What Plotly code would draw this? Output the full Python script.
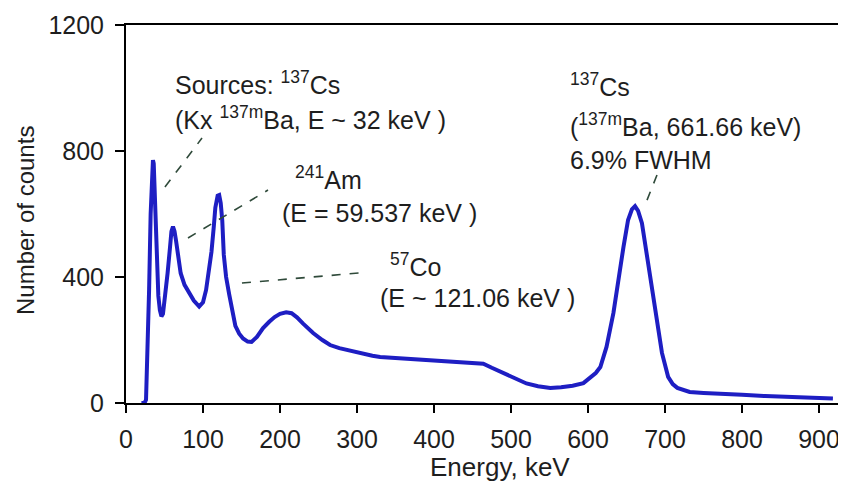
import plotly.graph_objects as go

# Spectrum (energy in keV, counts)
energy_kev = [20, 24, 26, 28, 30, 32, 34, 35, 36, 37, 38, 40, 42, 44, 46, 48, 51, 54, 57, 59,
              61, 63, 65, 68, 71, 76, 82, 88, 95, 100, 104, 108, 111, 114, 116, 119, 121, 123,
              125, 127, 130, 134, 138, 142, 147, 152, 158, 163, 170, 178, 186, 193, 200, 208,
              215, 222, 230, 243, 255, 265, 277, 287, 298, 308, 320, 330, 342, 352, 367, 382,
              400, 420, 440, 455, 464, 475, 490, 500, 508, 520, 535, 551, 565, 580, 594, 603,
              610, 616, 624, 633, 639, 646, 652, 657, 661, 665, 670, 677, 683, 689, 696, 704,
              710, 716, 725, 732, 750, 775, 800, 830, 860, 890, 918]
counts = [0, 0, 10, 146, 359, 600, 730, 771, 760, 700, 600, 450, 340, 295, 275, 283, 340, 412,
          490, 545, 560, 545, 515, 460, 412, 375, 349, 325, 306, 320, 359, 420, 480, 560, 620,
          658, 660, 635, 580, 470, 400, 345, 290, 245, 220, 205, 195, 194, 210, 238, 258, 273,
          283, 288, 285, 272, 252, 222, 200, 184, 174, 168, 162, 157, 150, 146, 144, 143, 140,
          137, 134, 131, 130, 127, 125, 112, 95, 85, 75, 62, 53, 48, 50, 55, 63, 80, 95, 114,
          178, 286, 390, 495, 581, 615, 625, 610, 571, 464, 359, 263, 159, 83, 60, 48, 40, 35,
          32, 30, 26, 22, 19, 16, 14]

x_ticks = [0, 100, 200, 300, 400, 500, 600, 700, 800, 900]
y_ticks = [0, 400, 800, 1200]
x_title = "Energy, keV"
y_title = "Number of counts"

label_texts = ["Sources: <sup>137</sup>Cs",
               "(Kx <sup>137m</sup>Ba, E ~ 32 keV )",
               "<sup>241</sup>Am",
               "(E = 59.537 keV )",
               "<sup>57</sup>Co",
               "(E ~ 121.06 keV )",
               "<sup>137</sup>Cs",
               "(<sup>137m</sup>Ba, 661.66 keV)",
               "6.9% FWHM"]
label_x = [61, 61, 217, 200, 340, 327, 574, 574, 574]
label_y = [1016, 906, 715, 603, 437, 333, 1010, 883, 771]

# leader lines (x0, y0, x1, y1) in data units
leaders = [(50.6, 686, 98.7, 841),
           (80.5, 524, 184.4, 676),
           (150.6, 381, 303.9, 413),
           (676.6, 644, 689.6, 724)]

FONT = "Liberation Sans, Arial, sans-serif"
TXT = "#1e1e1e"

fig = go.Figure()
fig.add_trace(go.Scatter(x=energy_kev, y=counts, mode="lines",
                         line=dict(color="rgb(30,30,195)", width=4),
                         hoverinfo="skip", showlegend=False))

for t, xx, yy in zip(label_texts, label_x, label_y):
    fig.add_annotation(x=xx, y=yy, xref="x", yref="y", text=t, showarrow=False,
                       xanchor="left", yanchor="middle",
                       font=dict(family=FONT, size=25, color=TXT))

for x0, y0, x1, y1 in leaders:
    fig.add_shape(type="line", xref="x", yref="y", x0=x0, y0=y0, x1=x1, y1=y1,
                  line=dict(color="#2f4a3a", width=1.6, dash="dash"))

# axis titles
fig.add_annotation(x=-0.1403, y=0.484, xref="paper", yref="paper", text=y_title,
                   textangle=-90, showarrow=False, xanchor="center", yanchor="middle",
                   font=dict(family=FONT, size=24, color=TXT))
fig.add_annotation(x=0.519, y=-0.169, xref="paper", yref="paper", text=x_title,
                   showarrow=False, xanchor="center", yanchor="middle",
                   font=dict(family=FONT, size=26, color=TXT))

# the page body adds an 8 px offset, so the figure is 8 px smaller and margins shifted
fig.update_layout(
    width=838, height=476,
    margin=dict(l=118, r=0, t=17, b=81),
    paper_bgcolor="white", plot_bgcolor="white",
    font=dict(family=FONT, size=25, color=TXT),
    showlegend=False,
    xaxis=dict(range=[0, 935], tickvals=x_ticks, ticks="outside", ticklen=8,
               tickwidth=1.5, tickcolor="black", showline=True, linecolor="black",
               linewidth=2, mirror=True, showgrid=False, zeroline=False,
               ticklabelstandoff=5, automargin=False),
    yaxis=dict(range=[0, 1200], tickvals=y_ticks, ticks="outside", ticklen=9,
               tickwidth=1.5, tickcolor="black", showline=True, linecolor="black",
               linewidth=2, showgrid=False, zeroline=False, ticklabelstandoff=6,
               automargin=False),
)

fig.write_html("out.html")
